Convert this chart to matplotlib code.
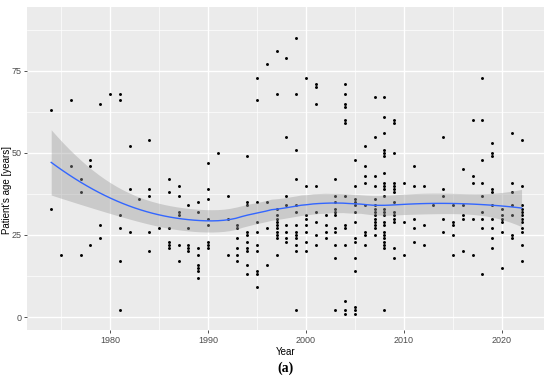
import numpy as np
import matplotlib
matplotlib.use("Agg")
import matplotlib.pyplot as plt

plt.rcParams["font.family"] = ["Liberation Sans", "DejaVu Sans"]

# ---- data: patient age per year ----
ages_by_year = {
    1974: [63, 33],
    1975: [19],
    1976: [66, 46],
    1977: [42, 38, 19],
    1978: [48, 46, 22],
    1979: [65, 28, 24],
    1980: [68],
    1981: [68, 66, 31, 27, 17, 2],
    1982: [52, 39, 26],
    1983: [36],
    1984: [54, 39, 37, 26, 20],
    1985: [27],
    1986: [42, 38, 27, 23, 22, 21],
    1987: [40, 37, 32, 31, 22, 17],
    1988: [34, 27, 22, 21, 20],
    1989: [35, 32, 21, 19, 16, 15, 14, 12],
    1990: [47, 39, 36, 30, 28, 23, 22, 21],
    1991: [50],
    1992: [37, 30, 19],
    1993: [28, 27, 24, 21, 19, 17],
    1994: [49, 35, 34, 26, 25, 23, 21, 20, 16, 13],
    1995: [73, 66, 35, 29, 26, 22, 20, 14, 13, 9],
    1996: [77, 35, 27, 16],
    1997: [81, 68, 33, 31, 30, 29, 28, 27, 26, 25, 24, 19],
    1998: [79, 55, 37, 34, 28, 26, 24, 23],
    1999: [85, 68, 51, 42, 34, 32, 28, 26, 25, 24, 22, 20, 2],
    2000: [73, 40, 31, 30, 28, 26, 23, 20],
    2001: [71, 70, 65, 40, 32, 29, 25, 22],
    2002: [31, 28, 26, 24],
    2003: [42, 37, 35, 33, 32, 31, 27, 26, 22, 18, 2],
    2004: [71, 68, 65, 64, 60, 59, 37, 28, 27, 22, 5, 2, 1],
    2005: [48, 40, 36, 35, 34, 32, 29, 24, 23, 18, 14, 3, 2, 1],
    2006: [52, 46, 43, 41, 34, 26, 25, 22],
    2007: [67, 55, 43, 40, 36, 34, 33, 32, 31, 30, 29, 28, 27, 25],
    2008: [67, 61, 56, 51, 50, 49, 44, 41, 40, 39, 37, 33, 32, 31, 29, 28,
           26, 25, 24, 23, 22, 21, 2],
    2009: [60, 59, 50, 41, 40, 39, 38, 35, 32, 31, 30, 29, 21, 18],
    2010: [41, 29, 19],
    2011: [46, 40, 30, 27, 23],
    2012: [40, 28, 22],
    2013: [34],
    2014: [55, 39, 37, 30, 26],
    2015: [34, 29, 28, 25, 19],
    2016: [45, 34, 31, 30, 20],
    2017: [60, 43, 41, 30, 19],
    2018: [73, 60, 48, 41, 37, 32, 30, 27, 13],
    2019: [53, 50, 49, 39, 38, 34, 30, 27, 24, 21],
    2020: [33, 31, 30, 29, 26, 15],
    2021: [56, 41, 38, 34, 31, 25, 24],
    2022: [54, 40, 34, 33, 32, 31, 30, 29, 27, 26, 22, 17],
}
years = np.array([yr for yr, a in ages_by_year.items() for _ in a], dtype=float)
ages = np.array([v for a in ages_by_year.values() for v in a], dtype=float)

x_ticks = [1980, 1990, 2000, 2010, 2020]
y_ticks = [0, 25, 50, 75]


# ---- loess (degree 2, span 0.75) like geom_smooth default ----
def loess_weights(x, x0, span=0.75):
    n = len(x)
    q = int(np.floor(n * span))
    d = np.abs(x - x0)
    h = np.sort(d)[q - 1]
    w = np.clip(1 - (d / h) ** 3, 0, None) ** 3
    X = np.column_stack([np.ones(n), x - x0, (x - x0) ** 2])
    XtW = X.T * w
    A = XtW @ X
    l = np.linalg.solve(A, XtW)[0]
    return l


L = np.array([loess_weights(years, xi) for xi in years])
fit = L @ ages
IL = np.eye(len(years)) - L
M = IL.T @ IL
delta1 = np.trace(M)
sigma = np.sqrt(np.sum((ages - fit) ** 2) / delta1)
xs = np.linspace(years.min(), years.max(), 80)
Ls = np.array([loess_weights(years, xi) for xi in xs])
ys = Ls @ ages
se = sigma * np.sqrt(np.sum(Ls ** 2, axis=1))
tq = 1.968

# ---- figure ----
fig = plt.figure(figsize=(5.5, 3.79), dpi=100)
ax = fig.add_axes([27 / 550, 49 / 379, 517 / 550, 323 / 379])
ax.set_facecolor("#EBEBEB")
for s in ax.spines.values():
    s.set_visible(False)

ax.set_xlim(1971.53, 2024.29)
ax.set_ylim(-3.96, 94.5)
ax.set_xticks(x_ticks)
ax.set_yticks(y_ticks)
ax.set_xticks([1975, 1985, 1995, 2005, 2015], minor=True)
ax.set_yticks([12.5, 37.5, 62.5, 87.5], minor=True)
ax.grid(which="major", color="white", linewidth=1.0)
ax.grid(which="minor", color="white", linewidth=0.5)
ax.set_axisbelow(True)
ax.tick_params(which="major", length=2.5, width=0.6, color="#333333",
               labelsize=6.5, labelcolor="#4D4D4D", pad=1.5)
ax.tick_params(which="minor", length=0)

ax.scatter(years, ages, s=4.5, color="black", linewidths=0, zorder=3)
ax.fill_between(xs, ys - tq * se, ys + tq * se, color="#999999", alpha=0.4,
                linewidth=0, zorder=4)
ax.plot(xs, ys, color="#3366FF", linewidth=1.0, zorder=5)

ax.set_xlabel("Year", fontsize=7, color="black", labelpad=2)
ax.set_ylabel("Patient's age [years]", fontsize=7, color="black")
ax.yaxis.set_label_coords(7.5 / 550, 0.5, transform=fig.transFigure)
ax.yaxis.label.set_va("center")

fig.text(0.5 * (27 + 544) / 550, 1 - 368 / 379, "(a)", ha="center", va="center",
         fontsize=10, fontweight="bold", family="Liberation Serif")

fig.savefig("out.png", dpi=100)
